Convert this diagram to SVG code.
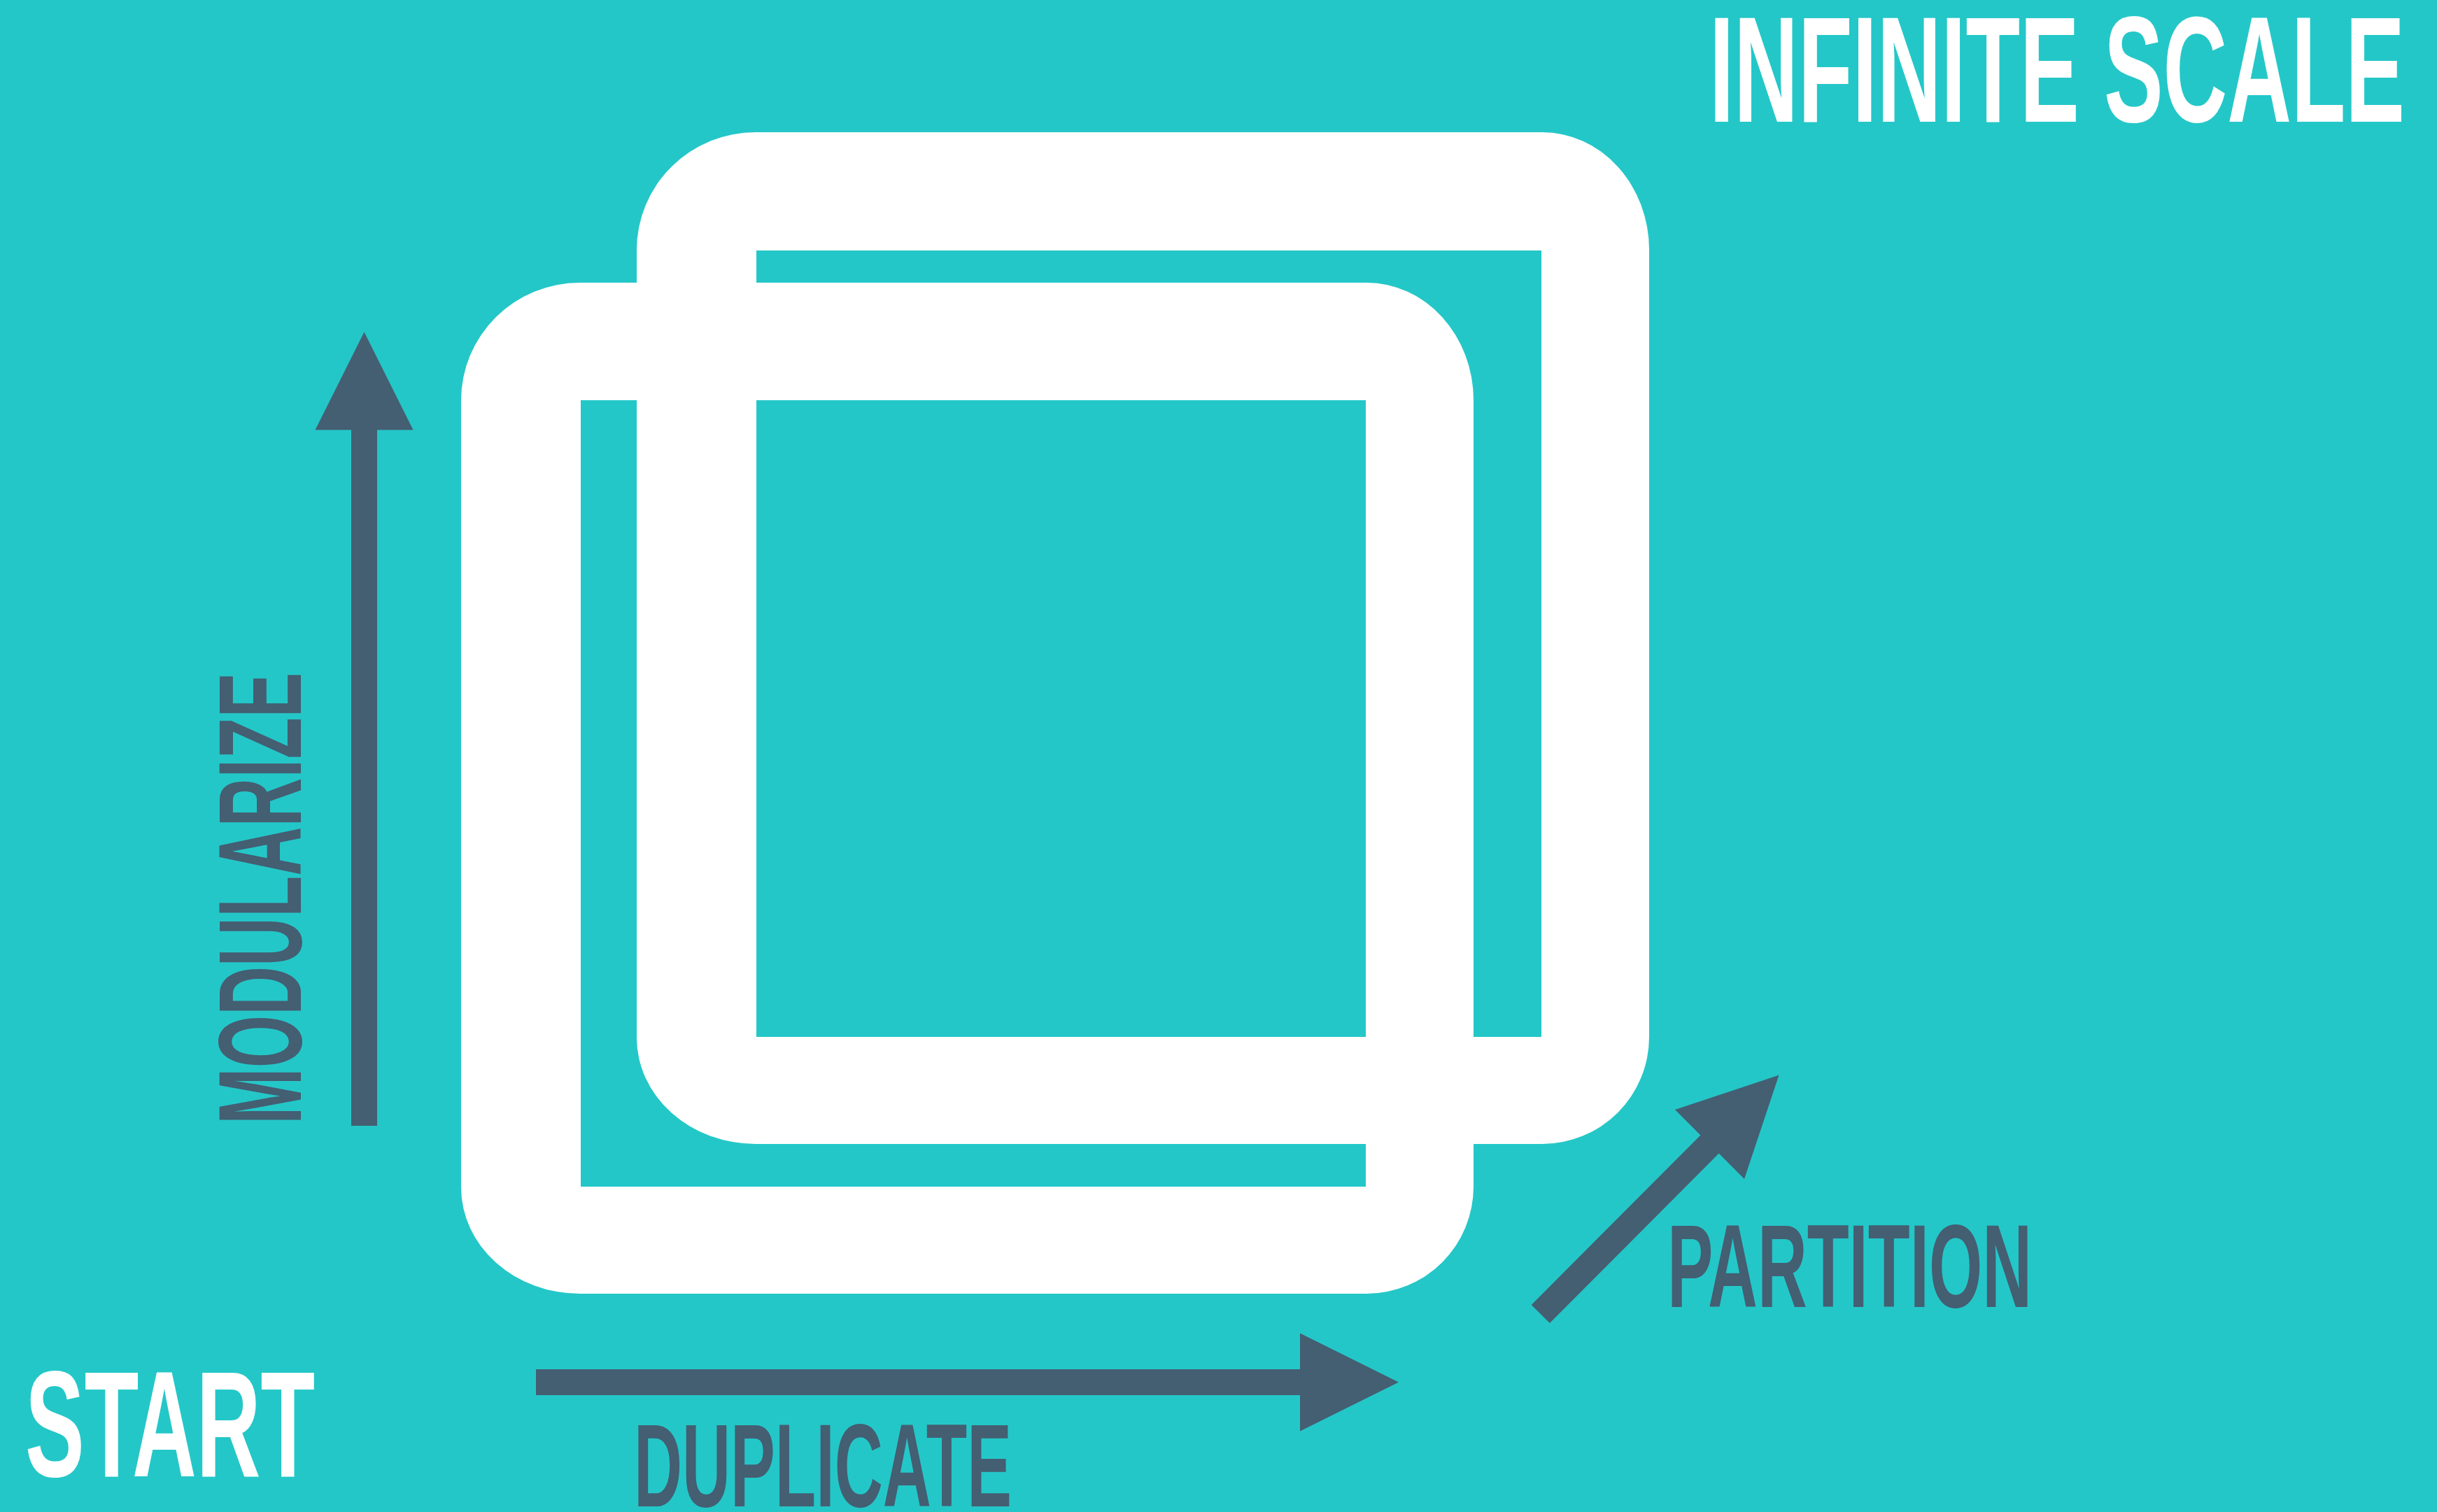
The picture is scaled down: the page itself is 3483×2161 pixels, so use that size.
<svg xmlns="http://www.w3.org/2000/svg" width="3483" height="2161" viewBox="0 0 3483 2161">
<style>
.frame{fill:#FFFFFF;fill-rule:evenodd;}
.arrow{fill:#445E72;}
.lbl{font-family:"Liberation Sans",Arial,sans-serif;font-weight:bold;}
.white{fill:#FFFFFF;}
.dark{fill:#445E72;}
</style>
<rect id="background" x="0" y="0" width="3483" height="2161" fill="#24C7C8"/>
<g id="frame-back">
<path class="frame" d="M1080,189 H2204 A153,168 0 0 1 2357,357 V1482 A153,153 0 0 1 2204,1635 H1080 A170,152 0 0 1 910,1483 V357 A170,168 0 0 1 1080,189 Z M1081,358 V1482 H2203 V358 Z"/>
</g>
<g id="frame-front">
<path class="frame" d="M829,404 H1953 A153,168 0 0 1 2106,572 V1696 A153,153 0 0 1 1953,1849 H829 A170,152 0 0 1 659,1697 V572 A170,168 0 0 1 829,404 Z M830,572 V1696 H1952 V572 Z"/>
</g>
<g id="connectors">
<polygon id="arrow-modularize" class="arrow" points="502,1609 502,614.5 450.5,614.5 520.5,474.5 590.5,614.5 539,614.5 539,1609"/>
<polygon id="arrow-duplicate" class="arrow" points="766,1957 1858,1957 1858,1905.5 1999,1975.5 1858,2045.5 1858,1994 766,1994"/>
<polygon id="arrow-partition" class="arrow" points="2188.7,1864.9 2430.4,1622.4 2394,1586 2542.5,1536.5 2493,1685 2456.6,1648.6 2214.9,1891.1"/>
</g>
<g id="label-start">
<text class="lbl white" x="36" y="2110" font-size="216" textLength="414" lengthAdjust="spacingAndGlyphs">START</text>
</g>
<g id="label-infinite-scale">
<text class="lbl white" x="2443" y="174" font-size="216" textLength="994" lengthAdjust="spacingAndGlyphs">INFINITE SCALE</text>
</g>
<g id="label-modularize">
<text class="lbl dark" x="430" y="1607" font-size="168" textLength="646" lengthAdjust="spacingAndGlyphs" transform="rotate(-90 430 1607)">MODULARIZE</text>
</g>
<g id="label-duplicate">
<text class="lbl dark" x="906" y="2153" font-size="168" textLength="540" lengthAdjust="spacingAndGlyphs">DUPLICATE</text>
</g>
<g id="label-partition">
<text class="lbl dark" x="2383" y="1868" font-size="168" textLength="521" lengthAdjust="spacingAndGlyphs">PARTITION</text>
</g>
</svg>
